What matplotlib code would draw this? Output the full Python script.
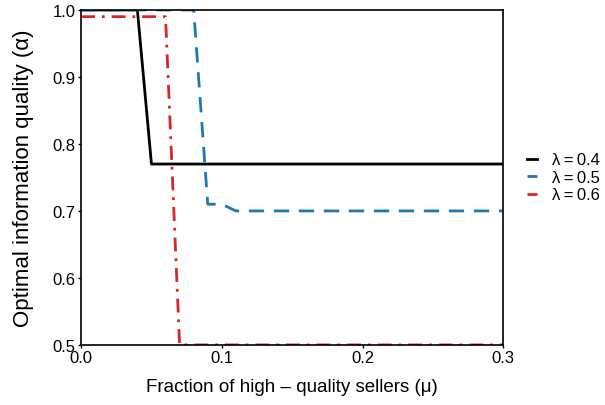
import matplotlib
matplotlib.use('Agg')
import matplotlib.pyplot as plt

plt.rcParams['font.family'] = ['Liberation Sans', 'DejaVu Sans']

mu_04 = [0.0, 0.04, 0.05, 0.3]
alpha_04 = [1.0, 1.0, 0.77, 0.77]

mu_05 = [0.0, 0.08, 0.09, 0.10, 0.11, 0.3]
alpha_05 = [1.0, 1.0, 0.71, 0.71, 0.70, 0.70]

mu_06 = [0.0, 0.06, 0.07, 0.3]
alpha_06 = [0.99, 0.99, 0.50, 0.50]

fig = plt.figure(figsize=(6.05, 4.06), dpi=100)
ax = fig.add_axes([0.134, 0.148, 0.698, 0.825])

ax.plot(mu_04, alpha_04, color='black', lw=2, ls='-', label='λ\u2009=\u20090.4')
ax.plot(mu_05, alpha_05, color='#1f77b4', lw=2, ls=(0, (5.5, 3.5)), label='λ\u2009=\u20090.5')
ax.plot(mu_06, alpha_06, color='#d62728', lw=2, ls=(0, (5, 2.5, 1, 2.5)), label='λ\u2009=\u20090.6')

ax.set_xlim(0, 0.3)
ax.set_ylim(0.5, 1.0)
ax.set_xticks([0.0, 0.1, 0.2, 0.3])
ax.set_yticks([0.5, 0.6, 0.7, 0.8, 0.9, 1.0])
ax.set_xticklabels(['0.0', '0.1', '0.2', '0.3'])
ax.set_yticklabels(['0.5', '0.6', '0.7', '0.8', '0.9', '1.0'])
ax.tick_params(length=2, width=1, labelsize=12, pad=2)
for s in ax.spines.values():
    s.set_linewidth(1.2)

ax.set_xlabel('Fraction of high – quality sellers (μ)', fontsize=13.5, labelpad=9)
ax.set_ylabel('Optimal information quality (α)', fontsize=16, labelpad=13)

ax.legend(loc='center left', bbox_to_anchor=(1.02, 0.5), frameon=False,
          fontsize=12, handlelength=0.6, handletextpad=0.9, labelspacing=0.15)

fig.savefig('out.png', dpi=100)
